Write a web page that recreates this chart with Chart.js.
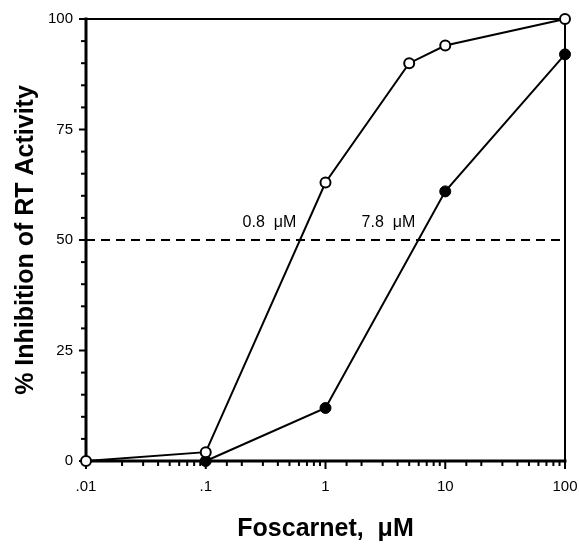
<!DOCTYPE html>
<html>
<head>
<meta charset="utf-8">
<script src="https://cdn.jsdelivr.net/npm/chart.js@4.4.0/dist/chart.umd.min.js"></script>
<style>
body { margin: 0; background: #fff; }
.c-chart { width: 579px; height: 544px; }
</style>
</head>
<body>
<div class="c-chart"><canvas id="chart_ctx"></canvas></div>
<script>
// open circles
const openDose = [0.01, 0.1, 1, 5, 10, 100];
const openInhib = [0, 2, 63, 90, 94, 100];
// filled circles
const filledDose = [0.1, 1, 10, 100];
const filledInhib = [0, 12, 61, 92];
// 50% line
const halfDose = [0.01, 100];
const halfInhib = [50, 50];
// IC50 labels
const ic50Labels = ['0.8  \u03bcM', '7.8  \u03bcM'];
const ic50LabelX = [0.34, 3.35];
const ic50LabelY = [54, 54];
// tick labels
const xTickValues = [0.01, 0.1, 1, 10, 100];
const xTickLabels = ['.01', '.1', '1', '10', '100'];
const yTickLabels = [0, 25, 50, 75, 100];

const toPts = (xs, ys) => xs.map((v, i) => ({x: v, y: ys[i]}));
const decadeIndex = v => xTickValues.findIndex(d => Math.abs(Math.log10(d) - Math.log10(v)) < 1e-6);

const tickFont = {family: '"Liberation Sans", Arial, sans-serif', size: 15};
const titleFont = {family: '"Liberation Sans", Arial, sans-serif', size: 25, weight: 'bold'};

// frame, tick marks and IC50 text
const frame = {
    id: 'frame',
    beforeDatasetsDraw(chart) {
        const {ctx, chartArea: a, scales: {x, y}} = chart;
        const line = (x1, y1, x2, y2) => { ctx.beginPath(); ctx.moveTo(x1, y1); ctx.lineTo(x2, y2); ctx.stroke(); };
        ctx.save();
        ctx.strokeStyle = '#000';
        ctx.lineCap = 'square';
        ctx.lineWidth = 2;
        line(a.left, a.top, a.right, a.top);
        line(a.right, a.top, a.right, a.bottom);
        ctx.lineWidth = 3;
        line(a.left, a.top, a.left, a.bottom);
        line(a.left, a.bottom, a.right, a.bottom);
        ctx.lineCap = 'butt';
        ctx.lineWidth = 2;
        y.ticks.forEach(t => {
            const py = y.getPixelForValue(t.value);
            const len = yTickLabels.includes(t.value) ? 7 : 5;
            line(a.left - len, py, a.left, py);
        });
        x.ticks.forEach(t => {
            const px = x.getPixelForValue(t.value);
            const len = decadeIndex(t.value) >= 0 ? 8 : 5;
            line(px, a.bottom, px, a.bottom + len);
        });
        ctx.fillStyle = '#000';
        ctx.font = '16px "Liberation Sans", Arial, sans-serif';
        ctx.textAlign = 'center';
        ctx.textBaseline = 'middle';
        ic50Labels.forEach((s, i) => {
            ctx.fillText(s, x.getPixelForValue(ic50LabelX[i]), y.getPixelForValue(ic50LabelY[i]));
        });
        ctx.restore();
    }
};

new Chart(document.getElementById('chart_ctx'), {
    type: 'scatter',
    data: {
        datasets: [{
            data: toPts(openDose, openInhib),
            showLine: true,
            borderColor: '#000',
            borderWidth: 2,
            pointRadius: 5,
            pointBackgroundColor: '#fff',
            pointBorderColor: '#000',
            pointBorderWidth: 2,
            clip: false
        }, {
            data: toPts(filledDose, filledInhib),
            showLine: true,
            borderColor: '#000',
            borderWidth: 2,
            pointRadius: 5.5,
            pointBackgroundColor: '#000',
            pointBorderColor: '#000',
            pointBorderWidth: 1,
            clip: false
        }, {
            data: toPts(halfDose, halfInhib),
            showLine: true,
            borderColor: '#000',
            borderWidth: 2,
            borderDash: [9, 6],
            pointRadius: 0,
            clip: false
        }]
    },
    options: {
        animation: false,
        responsive: true,
        maintainAspectRatio: false,
        events: [],
        layout: {padding: {top: 19, right: 14, left: 0, bottom: 0}},
        plugins: {
            legend: {display: false},
            tooltip: {enabled: false}
        },
        scales: {
            x: {
                type: 'logarithmic',
                min: 0.01,
                max: 100,
                grid: {display: false, drawTicks: false},
                border: {display: false},
                ticks: {
                    autoSkip: false,
                    maxRotation: 0,
                    padding: 17,
                    color: '#000',
                    font: tickFont,
                    callback: v => {
                        const i = decadeIndex(v);
                        return i >= 0 ? xTickLabels[i] : '';
                    }
                },
                title: {
                    display: true,
                    text: 'Foscarnet,  \u03bcM',
                    color: '#000',
                    font: titleFont,
                    padding: {top: 0, bottom: 0}
                },
                afterFit: s => { s.height = 83; s.paddingLeft = 0; s.paddingRight = 0; }
            },
            y: {
                min: 0,
                max: 100,
                grid: {display: false, drawTicks: false},
                border: {display: false},
                ticks: {
                    stepSize: 5,
                    autoSkip: false,
                    padding: 13,
                    color: '#000',
                    font: tickFont,
                    callback: v => yTickLabels.includes(v) ? String(v) : ''
                },
                title: {
                    display: true,
                    text: '% Inhibition of RT Activity',
                    color: '#000',
                    font: titleFont,
                    padding: {top: 11, bottom: 0}
                },
                afterFit: s => { s.width = 86; s.paddingTop = 0; s.paddingBottom = 0; }
            }
        }
    },
    plugins: [frame]
});
</script>
</body>
</html>
